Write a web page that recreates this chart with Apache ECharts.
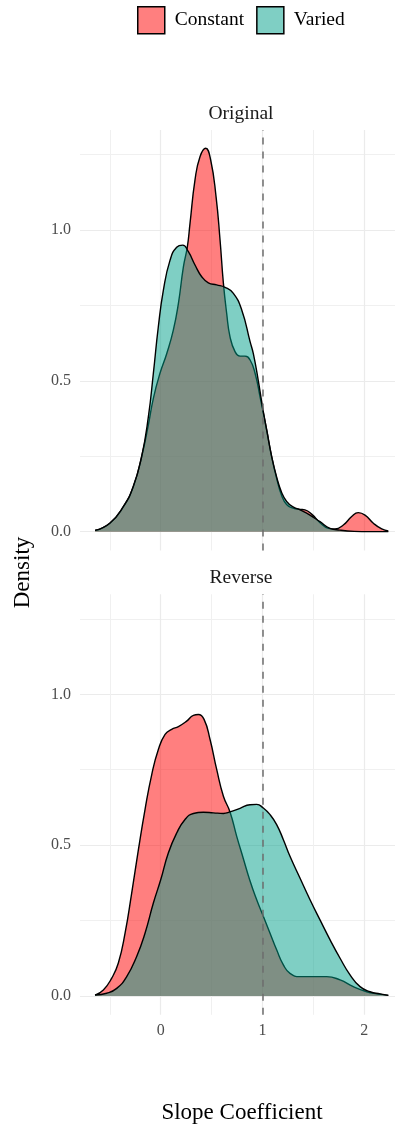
<!DOCTYPE html>
<html>
<head>
<meta charset="utf-8">
<script src="https://cdn.jsdelivr.net/npm/echarts@6/dist/echarts.min.js"></script>
<style>
  html, body { margin: 0; padding: 0; background: #ffffff; }
  #chart { width: 395px; height: 1131px; }
</style>
</head>
<body>
<div id="chart"></div>
<script>
// Facets and groups
const panels = ['Original', 'Reverse'];
const groups = ['Constant', 'Varied'];

// Axis breaks
const xMajorTicks = [0, 1, 2];
const xMinorTicks = [-0.5, 0.5, 1.5];
const yMajorTicks = [0, 0.5, 1];
const yMinorTicks = [0.25, 0.75, 1.25];
const referenceSlope = 1;

// Density estimates, Original condition
const originalConstantX = [-0.645, -0.5, -0.367, -0.27, -0.187, -0.121, -0.072, -0.007, 0.059, 0.124, 0.174, 0.223, 0.262, 0.288, 0.337, 0.386, 0.442, 0.491, 0.544, 0.583, 0.616, 0.648, 0.681, 0.73, 0.779, 0.828, 0.878, 0.927, 0.976, 1.041, 1.09, 1.14, 1.188, 1.237, 1.3, 1.37, 1.417, 1.483, 1.565, 1.647, 1.712, 1.794, 1.876, 1.941, 2.007, 2.089, 2.171, 2.236];
const originalConstantY = [0.004, 0.028, 0.083, 0.149, 0.249, 0.354, 0.442, 0.525, 0.59, 0.668, 0.757, 0.878, 0.945, 1.022, 1.166, 1.243, 1.271, 1.232, 1.11, 0.967, 0.823, 0.724, 0.646, 0.597, 0.582, 0.582, 0.569, 0.525, 0.447, 0.337, 0.249, 0.175, 0.12, 0.09, 0.078, 0.074, 0.072, 0.058, 0.03, 0.011, 0.009, 0.022, 0.05, 0.063, 0.055, 0.028, 0.009, 0.002];
const originalVariedX = [-0.645, -0.5, -0.367, -0.27, -0.187, -0.121, -0.072, -0.023, 0.026, 0.092, 0.157, 0.216, 0.272, 0.337, 0.403, 0.468, 0.55, 0.632, 0.714, 0.796, 0.878, 0.91, 0.959, 1.0, 1.041, 1.09, 1.14, 1.188, 1.237, 1.3, 1.369, 1.466, 1.565, 1.663, 1.76, 1.9, 2.05, 2.236];
const originalVariedY = [0.004, 0.028, 0.083, 0.149, 0.249, 0.381, 0.525, 0.68, 0.80, 0.90, 0.943, 0.95, 0.928, 0.884, 0.845, 0.825, 0.818, 0.81, 0.79, 0.735, 0.63, 0.59, 0.50, 0.414, 0.337, 0.249, 0.18, 0.13, 0.1, 0.082, 0.072, 0.055, 0.033, 0.011, 0.005, 0.001, 0.0, 0.0];

// Density estimates, Reverse condition
const reverseConstantX = [-0.645, -0.563, -0.481, -0.416, -0.35, -0.285, -0.219, -0.154, -0.088, -0.023, 0.043, 0.108, 0.174, 0.255, 0.321, 0.37, 0.426, 0.485, 0.55, 0.616, 0.681, 0.746, 0.812, 0.877, 0.943, 1.008, 1.074, 1.139, 1.205, 1.27, 1.368, 1.5, 1.631, 1.762, 1.892, 2.023, 2.122, 2.236];
const reverseConstantY = [0.003, 0.02, 0.059, 0.109, 0.208, 0.341, 0.485, 0.618, 0.734, 0.817, 0.867, 0.884, 0.893, 0.911, 0.93, 0.933, 0.917, 0.85, 0.751, 0.662, 0.61, 0.53, 0.455, 0.382, 0.319, 0.264, 0.208, 0.153, 0.103, 0.075, 0.064, 0.064, 0.064, 0.053, 0.031, 0.014, 0.007, 0.002];
const reverseVariedX = [-0.645, -0.53, -0.432, -0.334, -0.236, -0.154, -0.072, 0, 0.075, 0.157, 0.239, 0.321, 0.419, 0.517, 0.616, 0.681, 0.779, 0.877, 0.943, 1.008, 1.074, 1.139, 1.205, 1.27, 1.368, 1.467, 1.565, 1.664, 1.762, 1.86, 1.958, 2.057, 2.155, 2.236];
const reverseVariedY = [0.003, 0.009, 0.025, 0.064, 0.131, 0.208, 0.308, 0.385, 0.474, 0.54, 0.585, 0.605, 0.609, 0.607, 0.605, 0.61, 0.622, 0.634, 0.635, 0.623, 0.601, 0.568, 0.518, 0.463, 0.391, 0.319, 0.252, 0.186, 0.125, 0.07, 0.031, 0.014, 0.007, 0.002];

const densities = {
  Original: { Constant: [originalConstantX, originalConstantY], Varied: [originalVariedX, originalVariedY] },
  Reverse: { Constant: [reverseConstantX, reverseConstantY], Varied: [reverseVariedX, reverseVariedY] }
};

const FONT = 'Liberation Serif';
const fills = { Constant: '#FF0000', Varied: '#00A08A' };
const fillsHalf = { Constant: 'rgba(255,0,0,0.5)', Varied: 'rgba(0,160,138,0.5)' };

const X_MIN = -0.7927, X_MAX = 2.3016;
const Y_MIN = -0.0625, Y_MAX = 1.3315;
const gridTops = [130, 594.3];
const GRID_H = 420.5;

const zip = (xs, ys) => xs.map((x, i) => [x, ys[i]]);

const grids = [], xAxes = [], yAxes = [], series = [];

panels.forEach((panel, p) => {
  grids.push({ left: 80, top: gridTops[p], width: 315, height: GRID_H, containLabel: false });

  // major x
  xAxes.push({
    gridIndex: p, type: 'value', min: X_MIN, max: X_MAX, position: 'bottom',
    axisLine: { show: false },
    axisTick: { show: false, customValues: xMajorTicks },
    axisLabel: { show: p === panels.length - 1, customValues: xMajorTicks, margin: 8,
      color: '#4D4D4D', fontFamily: FONT, fontSize: 16, formatter: v => String(v) },
    splitLine: { show: true, lineStyle: { color: '#EBEBEB', width: 1.2 } }
  });
  // minor x
  xAxes.push({
    gridIndex: p, type: 'value', min: X_MIN, max: X_MAX, position: 'top',
    axisLine: { show: false },
    axisTick: { show: false, customValues: xMinorTicks },
    axisLabel: { show: false, customValues: xMinorTicks },
    splitLine: { show: true, lineStyle: { color: '#F0F0F0', width: 1 } }
  });
  // major y
  yAxes.push({
    gridIndex: p, type: 'value', min: Y_MIN, max: Y_MAX, position: 'left',
    axisLine: { show: false },
    axisTick: { show: false, customValues: yMajorTicks },
    axisLabel: { show: true, customValues: yMajorTicks, margin: 9,
      color: '#4D4D4D', fontFamily: FONT, fontSize: 16, formatter: v => v.toFixed(1) },
    splitLine: { show: true, lineStyle: { color: '#EBEBEB', width: 1.2 } }
  });
  // minor y
  yAxes.push({
    gridIndex: p, type: 'value', min: Y_MIN, max: Y_MAX, position: 'right',
    axisLine: { show: false },
    axisTick: { show: false, customValues: yMinorTicks },
    axisLabel: { show: false, customValues: yMinorTicks },
    splitLine: { show: true, lineStyle: { color: '#F0F0F0', width: 1 } }
  });

  groups.forEach((g, k) => {
    const [xs, ys] = densities[panel][g];
    series.push({
      name: g, type: 'line', xAxisIndex: 2 * p, yAxisIndex: 2 * p,
      data: zip(xs, ys),
      smooth: 0.5,
      symbol: 'none', showSymbol: false, silent: true,
      z: 2 + k,
      itemStyle: { color: fills[g] },
      lineStyle: { color: '#000000', width: 1.4 },
      areaStyle: { color: fills[g], opacity: 0.5 }
    });
  });

  // dashed reference at slope = 1
  series.push({
    name: 'ref' + p, type: 'line', xAxisIndex: 2 * p, yAxisIndex: 2 * p,
    data: [], silent: true, z: 10,
    markLine: {
      silent: true, symbol: ['none', 'none'], animation: false,
      label: { show: false },
      lineStyle: { type: [7, 7], color: '#6E6E6E', width: 1.5, opacity: 1 },
      data: [{ xAxis: referenceSlope }]
    }
  });
});

const textEl = (text, x, y, size, color, rotation) => ({
  type: 'text', x, y, rotation: rotation || 0, silent: true,
  style: { text, fill: color, fontFamily: FONT, fontSize: size,
    align: 'center', verticalAlign: 'middle', textAlign: 'center', textVerticalAlign: 'middle' }
});

const chart = echarts.init(document.getElementById('chart'), null, { renderer: 'canvas' });
chart.setOption({
  animation: false,
  backgroundColor: '#ffffff',
  grid: grids,
  xAxis: xAxes,
  yAxis: yAxes,
  legend: {
    top: 1, left: 132, orient: 'horizontal',
    itemWidth: 27, itemHeight: 27, itemGap: 12, selectedMode: false,
    textStyle: { fontFamily: FONT, fontSize: 19.5, color: '#000000', padding: [0, 0, 0, 5] },
    data: groups.map(g => ({
      name: g, icon: 'rect',
      itemStyle: { color: fillsHalf[g], borderColor: '#000000', borderWidth: 1.5 }
    }))
  },
  graphic: [
    textEl(panels[0], 241, 114, 19.5, '#1A1A1A'),
    textEl(panels[1], 241, 578, 19.5, '#1A1A1A'),
    textEl('Slope Coefficient', 242, 1113, 23, '#000000'),
    textEl('Density', 23, 572.5, 23, '#000000', Math.PI / 2)
  ],
  series
});
</script>
</body>
</html>
